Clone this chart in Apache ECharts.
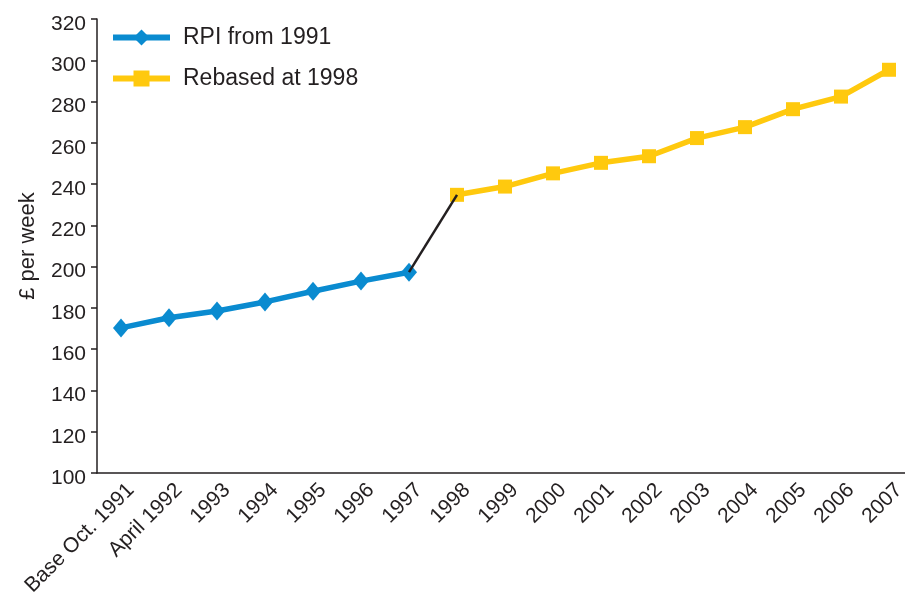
<!DOCTYPE html>
<html>
<head>
<meta charset="utf-8">
<script src="https://cdn.jsdelivr.net/npm/echarts@6/dist/echarts.min.js"></script>
<style>
html, body { margin: 0; padding: 0; background: #fff; overflow: hidden; }
#chart { width: 905px; height: 597px; }
</style>
</head>
<body>
<div id="chart"></div>
<script>
// categories and values
var categories = ['Base Oct. 1991', 'April 1992', '1993', '1994', '1995', '1996', '1997',
	'1998', '1999', '2000', '2001', '2002', '2003', '2004', '2005', '2006', '2007'];
var rpiFrom1991 = [170.3, 175.2, 178.5, 182.9, 188.1, 193.0, 197.3,
	null, null, null, null, null, null, null, null, null, null];
var rebased1998 = [null, null, null, null, null, null, null,
	234.8, 238.8, 245.2, 250.3, 253.5, 262.3, 267.6, 276.3, 282.4, 295.4];
// black link between 1997 and 1998
var joinLine = [null, null, null, null, null, null, 197.3,
	234.8, null, null, null, null, null, null, null, null, null];

var fontName = '"Liberation Sans", Arial, sans-serif';
var ink = '#231f20';

var myChart = echarts.init(document.getElementById('chart'));
var option = {
	animation: false,
	backgroundColor: '#fff',
	// plot runs a little past the right edge, like the original
	grid: { left: 97, top: 19, width: 816, bottom: 124, containLabel: false, outerBoundsMode: 'none' },
	legend: {
		left: 105,
		top: 21,
		orient: 'vertical',
		itemWidth: 57,
		itemHeight: 20,
		itemGap: 18,
		data: ['RPI from 1991', 'Rebased at 1998'],
		lineStyle: { width: 6 },
		textStyle: { fontFamily: fontName, fontSize: 23, color: ink, lineHeight: 20, padding: [0, 0, 0, 8] }
	},
	xAxis: {
		type: 'category',
		data: categories,
		boundaryGap: true,
		axisLine: { lineStyle: { color: ink, width: 1.5 } },
		axisTick: { length: 7, lineStyle: { color: ink, width: 1.5 } },
		axisLabel: {
			interval: 0, rotate: 45, margin: 4,
			verticalAlign: 'top', lineHeight: 28,
			fontFamily: fontName, fontSize: 21, color: ink
		},
		splitLine: { show: false }
	},
	yAxis: {
		type: 'value',
		min: 100, max: 320, interval: 20,
		name: '£ per week',
		nameLocation: 'middle',
		nameGap: 58,
		nameTextStyle: { fontFamily: fontName, fontSize: 22, color: ink },
		axisLine: { show: true, lineStyle: { color: ink, width: 1.5 } },
		axisTick: { show: true, length: 6, lineStyle: { color: ink, width: 1.5 } },
		axisLabel: {
			margin: 11, verticalAlign: 'top', lineHeight: 10,
			fontFamily: fontName, fontSize: 21, color: ink
		},
		splitLine: { show: false }
	},
	series: [
		{
			name: 'RPI from 1991',
			type: 'line',
			data: rpiFrom1991,
			symbol: 'diamond',
			symbolSize: [16, 19],
			lineStyle: { color: '#0a8bd0', width: 5.5 },
			itemStyle: { color: '#0a8bd0' },
			z: 2
		},
		{
			name: 'Rebased at 1998',
			type: 'line',
			data: rebased1998,
			symbol: 'rect',
			symbolSize: 14,
			lineStyle: { color: '#ffc90e', width: 5.5 },
			itemStyle: { color: '#ffc90e' },
			z: 2
		},
		{
			name: 'join',
			type: 'line',
			data: joinLine,
			showSymbol: false,
			symbol: 'none',
			lineStyle: { color: '#231f20', width: 2.5 },
			z: 5
		}
	]
};
myChart.setOption(option);
</script>
</body>
</html>
